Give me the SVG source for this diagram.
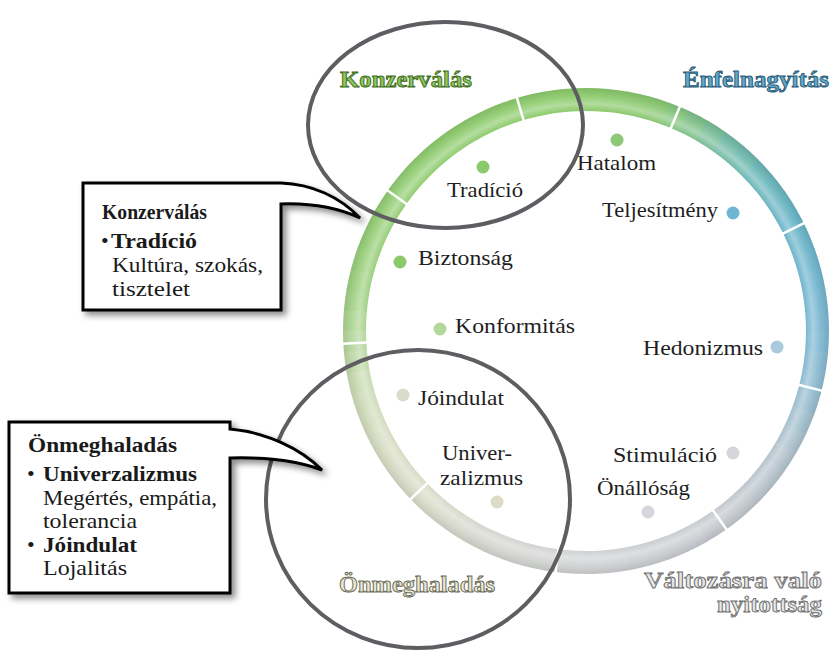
<svg xmlns="http://www.w3.org/2000/svg" width="831" height="651" viewBox="0 0 831 651">
<defs>
<style>
.seg{fill:none;stroke-width:23;stroke-dasharray:21 1500}
.sep{stroke:#ffffff;stroke-width:2.5}
.lbl{font-family:"Liberation Serif","Times New Roman",serif;font-size:21px;fill:#1e1e1e}
.ttl{font-family:"Liberation Serif","Times New Roman",serif;font-size:23px;font-weight:bold;stroke-width:0.9}
.box{fill:#ffffff;stroke:#000000;stroke-width:3;stroke-linejoin:miter;filter:url(#sh)}
.bt{font-family:"Liberation Serif","Times New Roman",serif;fill:#1a1a1a;font-size:22px}
.b{font-weight:bold}
.ring{fill:none;stroke:#5d5d62;stroke-width:4}
</style>
<filter id="sh" x="-10%" y="-10%" width="130%" height="130%">
<feDropShadow dx="4" dy="4" stdDeviation="3" flood-color="#000" flood-opacity="0.45"/>
</filter>
<radialGradient id="tube" gradientUnits="userSpaceOnUse" cx="586" cy="331" r="243">
<stop offset="0.905" stop-color="#ffffff" stop-opacity="0"/>
<stop offset="0.935" stop-color="#ffffff" stop-opacity="0.35"/>
<stop offset="0.965" stop-color="#ffffff" stop-opacity="0.08"/>
<stop offset="1" stop-color="#000000" stop-opacity="0.08"/>
</radialGradient>
</defs>
<rect width="831" height="651" fill="#ffffff"/>

<g id="ring">
<circle class="seg" cx="586" cy="331" r="231.5" stroke="#7db7d2" transform="rotate(0 586 331)"/>
<circle class="seg" cx="586" cy="331" r="231.5" stroke="#85b8d1" transform="rotate(5 586 331)"/>
<circle class="seg" cx="586" cy="331" r="231.5" stroke="#8dbad0" transform="rotate(10 586 331)"/>
<circle class="seg" cx="586" cy="331" r="231.5" stroke="#98bcce" transform="rotate(15 586 331)"/>
<circle class="seg" cx="586" cy="331" r="231.5" stroke="#a2bfcd" transform="rotate(20 586 331)"/>
<circle class="seg" cx="586" cy="331" r="231.5" stroke="#aac1cd" transform="rotate(25 586 331)"/>
<circle class="seg" cx="586" cy="331" r="231.5" stroke="#b2c3cd" transform="rotate(30 586 331)"/>
<circle class="seg" cx="586" cy="331" r="231.5" stroke="#b7c4cd" transform="rotate(35 586 331)"/>
<circle class="seg" cx="586" cy="331" r="231.5" stroke="#bbc5cd" transform="rotate(40 586 331)"/>
<circle class="seg" cx="586" cy="331" r="231.5" stroke="#c0c6cd" transform="rotate(45 586 331)"/>
<circle class="seg" cx="586" cy="331" r="231.5" stroke="#c3c8ce" transform="rotate(50 586 331)"/>
<circle class="seg" cx="586" cy="331" r="231.5" stroke="#c5c9cf" transform="rotate(55 586 331)"/>
<circle class="seg" cx="586" cy="331" r="231.5" stroke="#c8cbd0" transform="rotate(60 586 331)"/>
<circle class="seg" cx="586" cy="331" r="231.5" stroke="#c9ccd0" transform="rotate(65 586 331)"/>
<circle class="seg" cx="586" cy="331" r="231.5" stroke="#cacdd1" transform="rotate(70 586 331)"/>
<circle class="seg" cx="586" cy="331" r="231.5" stroke="#cbced1" transform="rotate(75 586 331)"/>
<circle class="seg" cx="586" cy="331" r="231.5" stroke="#cdcfd2" transform="rotate(80 586 331)"/>
<circle class="seg" cx="586" cy="331" r="231.5" stroke="#ced0d2" transform="rotate(85 586 331)"/>
<circle class="seg" cx="586" cy="331" r="231.5" stroke="#cfd1d3" transform="rotate(90 586 331)"/>
<circle class="seg" cx="586" cy="331" r="231.5" stroke="#d0d2d2" transform="rotate(95 586 331)"/>
<circle class="seg" cx="586" cy="331" r="231.5" stroke="#d1d3d1" transform="rotate(100 586 331)"/>
<circle class="seg" cx="586" cy="331" r="231.5" stroke="#d2d4d0" transform="rotate(105 586 331)"/>
<circle class="seg" cx="586" cy="331" r="231.5" stroke="#d3d5cf" transform="rotate(110 586 331)"/>
<circle class="seg" cx="586" cy="331" r="231.5" stroke="#d4d6cd" transform="rotate(115 586 331)"/>
<circle class="seg" cx="586" cy="331" r="231.5" stroke="#d5d8cb" transform="rotate(120 586 331)"/>
<circle class="seg" cx="586" cy="331" r="231.5" stroke="#d7d9ca" transform="rotate(125 586 331)"/>
<circle class="seg" cx="586" cy="331" r="231.5" stroke="#d8dbc8" transform="rotate(130 586 331)"/>
<circle class="seg" cx="586" cy="331" r="231.5" stroke="#d8dbc6" transform="rotate(135 586 331)"/>
<circle class="seg" cx="586" cy="331" r="231.5" stroke="#d7dbc5" transform="rotate(140 586 331)"/>
<circle class="seg" cx="586" cy="331" r="231.5" stroke="#d7dcc3" transform="rotate(145 586 331)"/>
<circle class="seg" cx="586" cy="331" r="231.5" stroke="#d6dcc2" transform="rotate(150 586 331)"/>
<circle class="seg" cx="586" cy="331" r="231.5" stroke="#d2dbbc" transform="rotate(155 586 331)"/>
<circle class="seg" cx="586" cy="331" r="231.5" stroke="#cedbb7" transform="rotate(160 586 331)"/>
<circle class="seg" cx="586" cy="331" r="231.5" stroke="#cadbb2" transform="rotate(165 586 331)"/>
<circle class="seg" cx="586" cy="331" r="231.5" stroke="#bfd8a7" transform="rotate(170 586 331)"/>
<circle class="seg" cx="586" cy="331" r="231.5" stroke="#b5d69c" transform="rotate(175 586 331)"/>
<circle class="seg" cx="586" cy="331" r="231.5" stroke="#acd491" transform="rotate(180 586 331)"/>
<circle class="seg" cx="586" cy="331" r="231.5" stroke="#a2d186" transform="rotate(185 586 331)"/>
<circle class="seg" cx="586" cy="331" r="231.5" stroke="#9ed081" transform="rotate(190 586 331)"/>
<circle class="seg" cx="586" cy="331" r="231.5" stroke="#9acf7c" transform="rotate(195 586 331)"/>
<circle class="seg" cx="586" cy="331" r="231.5" stroke="#96ce78" transform="rotate(200 586 331)"/>
<circle class="seg" cx="586" cy="331" r="231.5" stroke="#95ce76" transform="rotate(205 586 331)"/>
<circle class="seg" cx="586" cy="331" r="231.5" stroke="#93cd74" transform="rotate(210 586 331)"/>
<circle class="seg" cx="586" cy="331" r="231.5" stroke="#92cd73" transform="rotate(215 586 331)"/>
<circle class="seg" cx="586" cy="331" r="231.5" stroke="#91cd71" transform="rotate(220 586 331)"/>
<circle class="seg" cx="586" cy="331" r="231.5" stroke="#8fcc70" transform="rotate(225 586 331)"/>
<circle class="seg" cx="586" cy="331" r="231.5" stroke="#8ecc6e" transform="rotate(230 586 331)"/>
<circle class="seg" cx="586" cy="331" r="231.5" stroke="#8ecb6d" transform="rotate(235 586 331)"/>
<circle class="seg" cx="586" cy="331" r="231.5" stroke="#8dcb6d" transform="rotate(240 586 331)"/>
<circle class="seg" cx="586" cy="331" r="231.5" stroke="#8dcb6c" transform="rotate(245 586 331)"/>
<circle class="seg" cx="586" cy="331" r="231.5" stroke="#8ccb6c" transform="rotate(250 586 331)"/>
<circle class="seg" cx="586" cy="331" r="231.5" stroke="#8ccb6b" transform="rotate(255 586 331)"/>
<circle class="seg" cx="586" cy="331" r="231.5" stroke="#8ccb6b" transform="rotate(260 586 331)"/>
<circle class="seg" cx="586" cy="331" r="231.5" stroke="#8bca6a" transform="rotate(265 586 331)"/>
<circle class="seg" cx="586" cy="331" r="231.5" stroke="#8bca6a" transform="rotate(270 586 331)"/>
<circle class="seg" cx="586" cy="331" r="231.5" stroke="#8ac96c" transform="rotate(275 586 331)"/>
<circle class="seg" cx="586" cy="331" r="231.5" stroke="#89c86e" transform="rotate(280 586 331)"/>
<circle class="seg" cx="586" cy="331" r="231.5" stroke="#88c770" transform="rotate(285 586 331)"/>
<circle class="seg" cx="586" cy="331" r="231.5" stroke="#83c47d" transform="rotate(290 586 331)"/>
<circle class="seg" cx="586" cy="331" r="231.5" stroke="#7ec08a" transform="rotate(295 586 331)"/>
<circle class="seg" cx="586" cy="331" r="231.5" stroke="#78bd98" transform="rotate(300 586 331)"/>
<circle class="seg" cx="586" cy="331" r="231.5" stroke="#72baa6" transform="rotate(305 586 331)"/>
<circle class="seg" cx="586" cy="331" r="231.5" stroke="#6eb8ad" transform="rotate(310 586 331)"/>
<circle class="seg" cx="586" cy="331" r="231.5" stroke="#6ab6b8" transform="rotate(315 586 331)"/>
<circle class="seg" cx="586" cy="331" r="231.5" stroke="#69b5bd" transform="rotate(320 586 331)"/>
<circle class="seg" cx="586" cy="331" r="231.5" stroke="#69b5c3" transform="rotate(325 586 331)"/>
<circle class="seg" cx="586" cy="331" r="231.5" stroke="#68b4c8" transform="rotate(330 586 331)"/>
<circle class="seg" cx="586" cy="331" r="231.5" stroke="#6bb4ca" transform="rotate(335 586 331)"/>
<circle class="seg" cx="586" cy="331" r="231.5" stroke="#6db5cd" transform="rotate(340 586 331)"/>
<circle class="seg" cx="586" cy="331" r="231.5" stroke="#70b5cf" transform="rotate(345 586 331)"/>
<circle class="seg" cx="586" cy="331" r="231.5" stroke="#74b6d0" transform="rotate(350 586 331)"/>
<circle class="seg" cx="586" cy="331" r="231.5" stroke="#79b6d1" transform="rotate(355 586 331)"/>
<circle cx="586" cy="331" r="231.5" fill="none" stroke="url(#tube)" stroke-width="23"/>
<line class="sep" x1="805" y1="331" x2="845" y2="331" transform="rotate(14.2 586 331)"/>
<line class="sep" x1="805" y1="331" x2="845" y2="331" transform="rotate(54.7 586 331)"/>
<line class="sep" x1="805" y1="331" x2="845" y2="331" transform="rotate(97.2 586 331)"/>
<line class="sep" x1="805" y1="331" x2="845" y2="331" transform="rotate(136.2 586 331)"/>
<line class="sep" x1="805" y1="331" x2="845" y2="331" transform="rotate(177 586 331)"/>
<line class="sep" x1="805" y1="331" x2="845" y2="331" transform="rotate(215.3 586 331)"/>
<line class="sep" x1="805" y1="331" x2="845" y2="331" transform="rotate(253.5 586 331)"/>
<line class="sep" x1="805" y1="331" x2="845" y2="331" transform="rotate(292.7 586 331)"/>
<line class="sep" x1="805" y1="331" x2="845" y2="331" transform="rotate(333.7 586 331)"/>
</g>

<g id="value-tradicio"><circle cx="483" cy="167" r="6.5" fill="#8cc96a"/><text class="lbl" x="447" y="197" textLength="76" lengthAdjust="spacingAndGlyphs">Tradíció</text></g>
<g id="value-hatalom"><circle cx="617" cy="140" r="6.5" fill="#8cc878"/><text class="lbl" x="577" y="170" textLength="79" lengthAdjust="spacingAndGlyphs">Hatalom</text></g>
<g id="value-teljesitmeny"><circle cx="733" cy="213" r="6.5" fill="#6eb6d4"/><text class="lbl" x="602" y="217" textLength="116" lengthAdjust="spacingAndGlyphs">Teljesítmény</text></g>
<g id="value-hedonizmus"><circle cx="777" cy="347" r="6.5" fill="#a9c9dc"/><text class="lbl" x="643" y="355" textLength="120" lengthAdjust="spacingAndGlyphs">Hedonizmus</text></g>
<g id="value-stimulacio"><circle cx="733" cy="453" r="6.5" fill="#d3d5d9"/><text class="lbl" x="613" y="462" textLength="104" lengthAdjust="spacingAndGlyphs">Stimuláció</text></g>
<g id="value-onallosag"><circle cx="648" cy="512" r="6.5" fill="#d6d6dc"/><text class="lbl" x="597" y="495" textLength="93" lengthAdjust="spacingAndGlyphs">Önállóság</text></g>
<g id="value-univerzalizmus"><circle cx="497" cy="502" r="6.5" fill="#dcdcc8"/><text class="lbl" x="442" y="460" textLength="70" lengthAdjust="spacingAndGlyphs">Univer-</text><text class="lbl" x="440" y="485" textLength="83" lengthAdjust="spacingAndGlyphs">zalizmus</text></g>
<g id="value-joindulat"><circle cx="403" cy="395" r="6.5" fill="#dadbc8"/><text class="lbl" x="418" y="405" textLength="86" lengthAdjust="spacingAndGlyphs">Jóindulat</text></g>
<g id="value-konformitas"><circle cx="440" cy="329" r="6.5" fill="#b3d89a"/><text class="lbl" x="455" y="333" textLength="120" lengthAdjust="spacingAndGlyphs">Konformitás</text></g>
<g id="value-biztonsag"><circle cx="400" cy="262" r="6.5" fill="#8cc96a"/><text class="lbl" x="418" y="265" textLength="95" lengthAdjust="spacingAndGlyphs">Biztonság</text></g>

<g id="title-konzervalas"><text class="ttl" x="340" y="87" fill="#8dc65c" stroke="#3f6d22" textLength="132" lengthAdjust="spacingAndGlyphs">Konzerválás</text></g>
<g id="title-enfelnagyitas"><text class="ttl" x="683" y="87" fill="#62a9c9" stroke="#2b5b78" textLength="146" lengthAdjust="spacingAndGlyphs">Énfelnagyítás</text></g>
<g id="title-onmeghaladas"><text class="ttl" x="339" y="592" fill="#e8e8d4" stroke="#6b6b55" textLength="156" lengthAdjust="spacingAndGlyphs">Önmeghaladás</text></g>
<g id="title-valtozas"><text class="ttl" x="644" y="588" fill="#e6e6e6" stroke="#707070" textLength="178" lengthAdjust="spacingAndGlyphs">Változásra való</text><text class="ttl" x="717" y="612" fill="#e6e6e6" stroke="#707070" textLength="105" lengthAdjust="spacingAndGlyphs">nyitottság</text></g>

<g id="circle-top"><ellipse class="ring" cx="445.5" cy="125" rx="137.5" ry="103"/></g>
<g id="circle-bottom"><ellipse class="ring" cx="418" cy="499" rx="152" ry="149"/></g>

<g id="callout-konzervalas">
<path class="box" d="M83,183 H281 C312,184 340,197 360,218 C336,207 310,203 281,204 V310 H83 Z"/>
<text class="bt b" x="102" y="219" textLength="105" lengthAdjust="spacingAndGlyphs">Konzerválás</text>
<text class="bt" x="101" y="248">•</text>
<text class="bt b" x="111" y="248" textLength="86" lengthAdjust="spacingAndGlyphs">Tradíció</text>
<text class="bt" x="112" y="272" textLength="151" lengthAdjust="spacingAndGlyphs">Kultúra, szokás,</text>
<text class="bt" x="112" y="296" textLength="78" lengthAdjust="spacingAndGlyphs">tisztelet</text>
</g>

<g id="callout-onmeghaladas">
<path class="box" d="M9,422 H230 V429 C265,432 300,448 322,470 C295,460 265,457 230,458 V593 H9 Z"/>
<text class="bt b" x="28" y="452" textLength="149" lengthAdjust="spacingAndGlyphs">Önmeghaladás</text>
<text class="bt" x="27" y="481">•</text>
<text class="bt b" x="43" y="481" textLength="154" lengthAdjust="spacingAndGlyphs">Univerzalizmus</text>
<text class="bt" x="43" y="505" textLength="174" lengthAdjust="spacingAndGlyphs">Megértés, empátia,</text>
<text class="bt" x="43" y="528" textLength="94" lengthAdjust="spacingAndGlyphs">tolerancia</text>
<text class="bt" x="27" y="552">•</text>
<text class="bt b" x="43" y="552" textLength="94" lengthAdjust="spacingAndGlyphs">Jóindulat</text>
<text class="bt" x="43" y="575" textLength="84" lengthAdjust="spacingAndGlyphs">Lojalitás</text>
</g>
</svg>
